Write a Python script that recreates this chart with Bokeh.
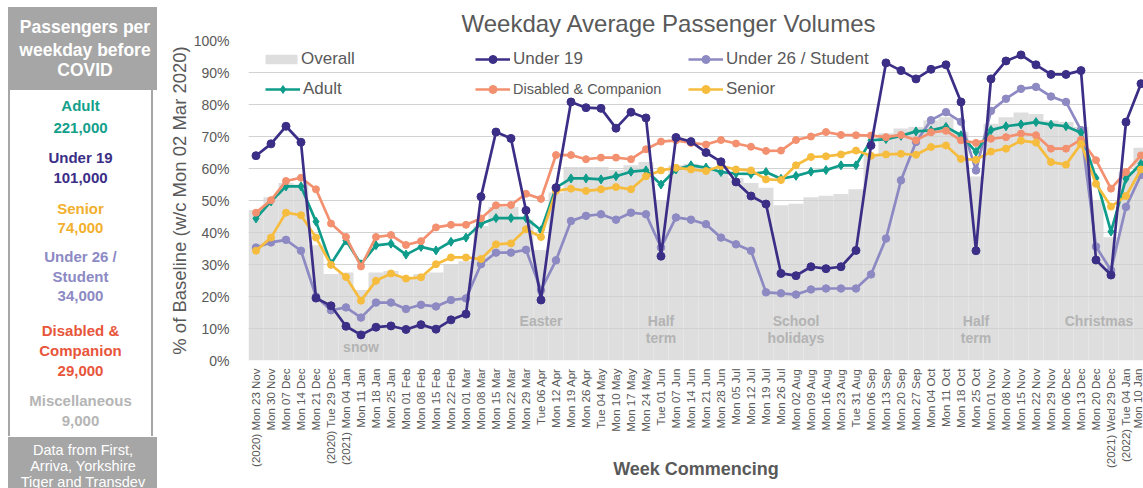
import math
from bokeh.plotting import figure
from bokeh.models import Range1d, FixedTicker, Legend, LegendItem, Div
from bokeh.layouts import row
from bokeh.core.properties import value
from bokeh.embed import file_html
from bokeh.resources import INLINE

# ---------------- data ----------------
weeks = ["(2020) Mon 23 Nov", "Mon 30 Nov", "Mon 07 Dec", "Mon 14 Dec", "Mon 21 Dec",
         "(2020) Tue 29 Dec", "(2021) Mon 04 Jan", "Mon 11 Jan", "Mon 18 Jan", "Mon 25 Jan",
         "Mon 01 Feb", "Mon 08 Feb", "Mon 15 Feb", "Mon 22 Feb", "Mon 01 Mar",
         "Mon 08 Mar", "Mon 15 Mar", "Mon 22 Mar", "Mon 29 Mar", "Tue 06 Apr",
         "Mon 12 Apr", "Mon 19 Apr", "Mon 26 Apr", "Tue 04 May", "Mon 10 May",
         "Mon 17 May", "Mon 24 May", "Tue 01 Jun", "Mon 07 Jun", "Mon 14 Jun",
         "Mon 21 Jun", "Mon 28 Jun", "Mon 05 Jul", "Mon 12 Jul", "Mon 19 Jul",
         "Mon 26 Jul", "Mon 02 Aug", "Mon 09 Aug", "Mon 16 Aug", "Mon 23 Aug",
         "Tue 31 Aug", "Mon 06 Sep", "Mon 13 Sep", "Mon 20 Sep", "Mon 27 Sep",
         "Mon 04 Oct", "Mon 11 Oct", "Mon 18 Oct", "Mon 25 Oct", "Mon 01 Nov",
         "Mon 08 Nov", "Mon 15 Nov", "Mon 22 Nov", "Mon 29 Nov", "Mon 06 Dec",
         "Mon 13 Dec", "Mon 20 Dec", "(2021) Wed 29 Dec", "(2022) Tue 04 Jan", "Mon 10 Jan"]

overall = [47, 51, 55.5, 55, 36, 27, 27.5, 22, 27.5, 28,
           26, 27, 27.5, 30, 31, 42, 48, 48, 44, 34.5,
           52.5, 60.5, 60.5, 60.5, 59.5, 61, 62, 50, 61, 61.5,
           60, 59, 57, 55.5, 54, 48.5, 49, 51, 51.5, 52,
           53.5, 64.5, 71, 72.5, 73, 75, 76, 71.5, 57.5, 74,
           76, 77.5, 77, 75, 74.5, 73, 50, 38.5, 59, 66.5]

under19 = [64, 67.7, 73.2, 68.2, 19.5, 17.1, 10.7, 8.0, 10.4, 10.8,
           9.7, 11.2, 9.8, 12.7, 14.5, 51.2, 71.4, 69.4, 46.9, 18.9,
           54, 80.8, 79, 78.8, 72.6, 77.6, 75.8, 32.6, 69.7, 68.4,
           65, 62.1, 55.8, 51.4, 48.9, 27.2, 26.5, 29.3, 28.7, 29.3,
           34.4, 67.2, 93, 90.6, 88, 91, 92.4, 80.8, 34.3, 88,
           93.6, 95.5, 92.4, 89.4, 89.4, 90.6, 31.4, 26.7, 74.5, 86.5]

under26 = [35.3, 36.9, 37.7, 34.3, 20, 15.7, 16.6, 13.4, 18.1, 18.1,
           16.1, 17.4, 16.9, 18.9, 19.4, 30.1, 33.7, 33.7, 34.6, 22,
           31.3, 43.6, 45.2, 45.7, 44, 46.2, 45.7, 35.3, 44.7, 44,
           42.6, 38.4, 36.3, 34.3, 21.3, 21, 20.6, 22.2, 22.5, 22.5,
           22.5, 26.9, 38.1, 56.3, 68.3, 75.1, 77.6, 74.6, 59.4, 78,
           81.8, 84.9, 85.5, 82.5, 80.8, 72, 35.6, 28.2, 48, 58]

adult = [44.4, 49.7, 54.4, 54.4, 43.4, 30.2, 37.5, 30.1, 36, 36.5,
         33.1, 35.5, 34.4, 37.1, 38.4, 42.7, 44.5, 44.5, 44.5, 40.7,
         54, 56.9, 56.9, 56.6, 57.6, 59, 59.4, 55, 59.7, 61,
         60.3, 58.9, 58.4, 58.3, 58.9, 56.8, 57.7, 59, 59.5, 61,
         61, 68.8, 69.2, 70.2, 71.6, 71.9, 73, 70.4, 65.2, 72,
         73.2, 73.8, 74.5, 73.7, 73.2, 71.2, 57, 40.3, 56.8, 61.5]

disabled = [46.2, 50.1, 56.1, 57.1, 53.5, 42.8, 38.6, 29.4, 38.6, 39.2,
            36.1, 37.3, 41.6, 42.4, 42.4, 44.4, 48.5, 48.6, 52.1, 50.5,
            64.2, 64.2, 62.9, 63.4, 63.4, 62.9, 66, 68.4, 68.8, 68,
            67.5, 68.9, 67.8, 66.8, 65.5, 65.6, 68.9, 70, 71.4, 70.5,
            70.4, 70.3, 69.8, 70.5, 68.8, 71.3, 71.8, 68.8, 68, 69.3,
            69.8, 70.9, 70.4, 66.2, 66.2, 69, 62.6, 53.7, 58.9, 64.1]

senior = [34.3, 38.4, 46.2, 45.4, 38.4, 29.9, 26.1, 18.7, 24.9, 27.2,
          25.6, 26, 30.1, 32.2, 32.2, 31.7, 36.3, 36.6, 41, 38.6,
          53, 53.7, 53, 53.5, 54.2, 53.5, 57.6, 59.4, 60.2, 59.7,
          59.2, 60.8, 59.7, 59.4, 56.6, 56.4, 61, 63.6, 63.8, 64.4,
          65.6, 64, 64.4, 64.6, 64.3, 66.7, 67.2, 63, 62.7, 65.3,
          66.2, 68.7, 68.1, 62, 61.2, 67.7, 55.2, 48.1, 51.4, 59.7]

y_ticks = [0, 10, 20, 30, 40, 50, 60, 70, 80, 90, 100]

# event annotations: (text lines, week index)
events = [(["snow"], 7), (["Easter"], 19), (["Half", "term"], 27),
          (["School", "holidays"], 36), (["Half", "term"], 48), (["Christmas"], 57)]

# side panel contents
panel_title = ["Passengers per", "weekday before", "COVID"]
panel_groups = [(["Adult"], "221,000", "#13A08B"),
                (["Under 19"], "101,000", "#3B2E86"),
                (["Senior"], "74,000", "#F2B02E"),
                (["Under 26 /", "Student"], "34,000", "#8C89C4"),
                (["Disabled &", "Companion"], "29,000", "#E8553A"),
                (["Miscellaneous"], "9,000", "#B5B5B5")]
panel_footer = ["Data from First,", "Arriva, Yorkshire", "Tiger and Transdev"]

FONT = "Liberation Sans"
GREY_TXT = "#595959"
PANEL_GREY = "#A6A6A6"

# ---------------- side panel (HTML) ----------------
def line_div(txt, cx, cy, size, color, bold=True, lh=20):
    return (f'<div style="position:absolute;left:{cx - 80}px;width:160px;top:{cy - lh / 2}px;'
            f'height:{lh}px;line-height:{lh}px;text-align:center;white-space:nowrap;'
            f'font-size:{size}px;font-weight:{"bold" if bold else "normal"};color:{color};">{txt}</div>')

parts = [f'<div style="position:relative;width:158px;height:488px;overflow:hidden;margin:0;padding:0;'
         f'font-family:\'{FONT}\',Arial,sans-serif;">',
         f'<div style="position:absolute;left:8px;top:7px;width:149px;height:83px;background:{PANEL_GREY};"></div>',
         f'<div style="position:absolute;left:8px;top:90px;width:145px;height:346px;background:white;'
         f'border-left:2px solid {PANEL_GREY};border-right:2px solid {PANEL_GREY};"></div>',
         f'<div style="position:absolute;left:8px;top:437px;width:149px;height:60px;background:{PANEL_GREY};"></div>']
for t, cy in zip(panel_title, [27, 49.5, 69.5]):
    parts.append(line_div(t, 85, cy, 17.5, "white"))
gy = [[106, 127.5], [158, 178], [209, 227.5], [257, 277, 296], [331, 351, 371], [401, 421]]
for (names, num, col), ys in zip(panel_groups, gy):
    for t, cy in zip(names + [num], ys):
        parts.append(line_div(t, 80.5, cy, 15, col))
for t, cy in zip(panel_footer, [449.5, 466, 481.5]):
    parts.append(line_div(t, 83, cy, 14.5, "white", bold=False, lh=16))
parts.append('</div>')
panel = Div(text="".join(parts), width=158, height=488, margin=(0, 0, 0, 0))

# ---------------- main chart ----------------
idx = list(range(len(weeks)))
p = figure(width=985, height=488, x_range=Range1d(-0.5, 59.167), y_range=Range1d(0, 100),
           toolbar_location=None, output_backend="svg",
           title="Weekday Average Passenger Volumes",
           min_border_left=90, min_border_right=0, min_border_top=40, min_border_bottom=128)
p.title.align = "left"
p.title.offset = 213
p.title.standoff = 7
p.title.text_font = FONT
p.title.text_font_size = "24px"
p.title.text_font_style = "normal"
p.title.text_color = GREY_TXT
p.outline_line_color = None
p.xgrid.visible = False
p.ygrid.ticker = FixedTicker(ticks=y_ticks)
p.ygrid.grid_line_color = "#D2D2D2"
p.ygrid.grid_line_width = 1

bars = p.vbar(x=idx, top=overall, width=1.0, bottom=0, fill_color="#DEDEDE",
              line_color=None, level="image")

# event texts
ev_x, ev_y, ev_t = [], [], []
for lines, wi in events:
    if lines == ["snow"]:
        ev_x.append(wi); ev_y.append(4.1); ev_t.append(lines[0])
    elif lines == ["Christmas"]:
        ev_x.append(wi - 0.8); ev_y.append(12.2); ev_t.append(lines[0])
    else:
        for k, t in enumerate(lines):
            ev_x.append(wi); ev_y.append(12.2 - 5.2 * k); ev_t.append(t)
p.text(x=ev_x, y=ev_y, text=ev_t, text_align="center", text_baseline="middle",
       text_font=value(FONT), text_font_size="14px", text_font_style="bold",
       text_color="#B3B3B3")

series = [
    ("Under 26 / Student", under26, "#8D89C2", "circle", 7.5),
    ("Adult", adult, "#0F9C8A", "diamond", 9),
    ("Disabled & Companion", disabled, "#F2906F", "circle", 7),
    ("Senior", senior, "#F6BC3E", "circle", 7),
    ("Under 19", under19, "#3B2E86", "circle", 8),
]
rends = {}
for name, vals, col, mk, sz in series:
    ln = p.line(idx, vals, line_color=col, line_width=2.7)
    sc = p.scatter(idx, vals, marker=mk, size=sz, fill_color=col, line_color=col)
    rends[name] = [ln, sc]

# y axis
p.yaxis.ticker = FixedTicker(ticks=y_ticks)
p.yaxis.major_label_overrides = {v: f"{v}%" for v in y_ticks}
p.yaxis.axis_line_color = None
p.yaxis.major_tick_line_color = None
p.yaxis.minor_tick_line_color = None
p.yaxis.major_label_standoff = 13
p.yaxis.major_label_text_font = FONT
p.yaxis.major_label_text_font_size = "14px"
p.yaxis.major_label_text_color = GREY_TXT
p.yaxis.axis_label = "% of Baseline (w/c Mon 02 Mar 2020)"
p.yaxis.axis_label_text_font = FONT
p.yaxis.axis_label_text_font_size = "18.5px"
p.yaxis.axis_label_text_font_style = "normal"
p.yaxis.axis_label_text_color = GREY_TXT
p.yaxis.axis_label_standoff = 1

# x axis
p.xaxis.ticker = FixedTicker(ticks=idx, minor_ticks=[])
p.xaxis.major_label_overrides = {i: w for i, w in enumerate(weeks)}
p.xaxis.major_label_orientation = math.pi / 2
p.xaxis.axis_line_color = None
p.xaxis.major_tick_line_color = None
p.xaxis.minor_tick_line_color = None
p.xaxis.major_label_standoff = 2
p.xaxis.major_label_text_font = FONT
p.xaxis.major_label_text_font_size = "11.5px"
p.xaxis.major_label_text_color = GREY_TXT
p.xaxis.axis_label = "Week Commencing"
p.xaxis.axis_label_text_font = FONT
p.xaxis.axis_label_text_font_size = "18px"
p.xaxis.axis_label_text_font_style = "bold"
p.xaxis.axis_label_text_color = GREY_TXT
p.xaxis.axis_label_standoff = -12

# legends
def add_legend(label, renderers, loc, font="17px", gw=35, gh=20, standoff=3):
    lg = Legend(items=[LegendItem(label=value(label), renderers=renderers)],
                location=loc, orientation="vertical", padding=0, margin=0, spacing=0,
                glyph_width=gw, glyph_height=gh, label_standoff=standoff, label_height=20,
                label_text_font=FONT, label_text_font_size=font, label_text_color=GREY_TXT,
                background_fill_alpha=0, border_line_alpha=0)
    p.add_layout(lg, "center")

add_legend("Overall", [bars], (13, 291), gw=40, gh=12, standoff=0)
add_legend("Under 19", rends["Under 19"], (227, 291))
add_legend("Under 26 / Student", rends["Under 26 / Student"], (440, 291))
add_legend("Adult", rends["Adult"], (17, 261))
add_legend("Disabled & Companion", rends["Disabled & Companion"], (227, 261), font="14.5px")
add_legend("Senior", rends["Senior"], (440, 261))

layout = row(panel, p)
open("out.html", "w").write(file_html(layout, INLINE))
